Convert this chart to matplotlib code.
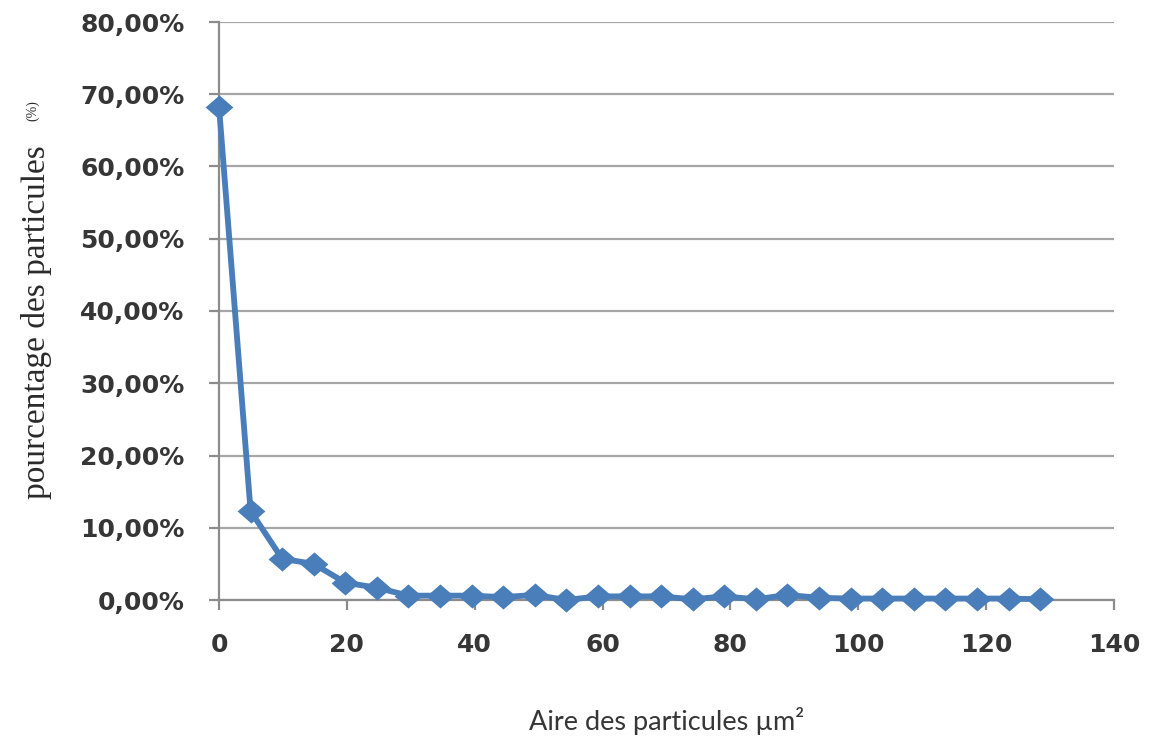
import matplotlib
matplotlib.use("Agg")
import matplotlib.pyplot as plt
from matplotlib.ticker import FuncFormatter

# Particle area classes (µm²) and share of particles in each class (%)
aire = [0, 4.94, 9.88, 14.82, 19.76, 24.7, 29.64, 34.58, 39.52, 44.46, 49.4,
        54.34, 59.28, 64.22, 69.16, 74.1, 79.04, 83.98, 88.92, 93.86, 98.8,
        103.74, 108.68, 113.62, 118.56, 123.5, 128.44]
pourcentage = [68.3, 12.3, 5.7, 5.0, 2.4, 1.7, 0.6, 0.6, 0.6, 0.4, 0.7,
               0.0, 0.5, 0.5, 0.5, 0.1, 0.5, 0.1, 0.7, 0.3, 0.2, 0.2, 0.2,
               0.2, 0.2, 0.2, 0.1]

x_ticks = [0, 20, 40, 60, 80, 100, 120, 140]
y_ticks = [0, 10, 20, 30, 40, 50, 60, 70, 80]

W, H = 1159, 736
fig = plt.figure(figsize=(W / 100, H / 100), dpi=100)
ax = fig.add_axes([219 / W, 1 - 600 / H, (1114 - 219) / W, (600 - 22) / H])

grid_col = "#a6a6a6"
text_col = "#363636"
blue = "#4a7ebb"

# slightly wide diamond marker
diamond = [(-1.15, 0), (0, 1), (1.15, 0), (0, -1), (-1.15, 0)]

ax.plot(aire, pourcentage, color=blue, lw=4.2, marker=diamond, ms=20,
        mfc=blue, mec=blue, mew=0, clip_on=False, zorder=3)

ax.set_xlim(0, 140)
ax.set_ylim(0, 80)
ax.set_xticks(x_ticks)
ax.set_yticks(y_ticks)
ax.yaxis.set_major_formatter(FuncFormatter(lambda v, p: f"{v:.2f}".replace(".", ",") + "%"))
ax.yaxis.grid(True, color=grid_col, lw=1.6)
ax.set_axisbelow(True)

for s in ("top", "right"):
    ax.spines[s].set_visible(False)
for s in ("left", "bottom"):
    ax.spines[s].set_color("#8c8c8c")
    ax.spines[s].set_linewidth(1.6)

ax.tick_params(axis="both", colors="#8c8c8c", width=1.6, length=7,
               labelcolor=text_col, labelsize=18)
ax.tick_params(axis="y", pad=18)
ax.tick_params(axis="x", pad=17)
for lab in ax.get_xticklabels() + ax.get_yticklabels():
    lab.set_fontweight("bold")
    lab.set_family("DejaVu Sans")

ax.set_xlabel("Aire des particules µm²", family="Lato", fontsize=19.5,
              color=text_col, labelpad=36)

fig.text(37 / W, 1 - 322 / H, "pourcentage des particules", rotation=90,
         family="Liberation Serif", fontsize=24, color="#2a2a2a",
         ha="center", va="center")
fig.text(33 / W, 1 - 111 / H, "(%)", rotation=90,
         family="Liberation Serif", fontsize=10, color="#2a2a2a",
         ha="center", va="center")

fig.savefig("out.png", dpi=100, facecolor="white")
